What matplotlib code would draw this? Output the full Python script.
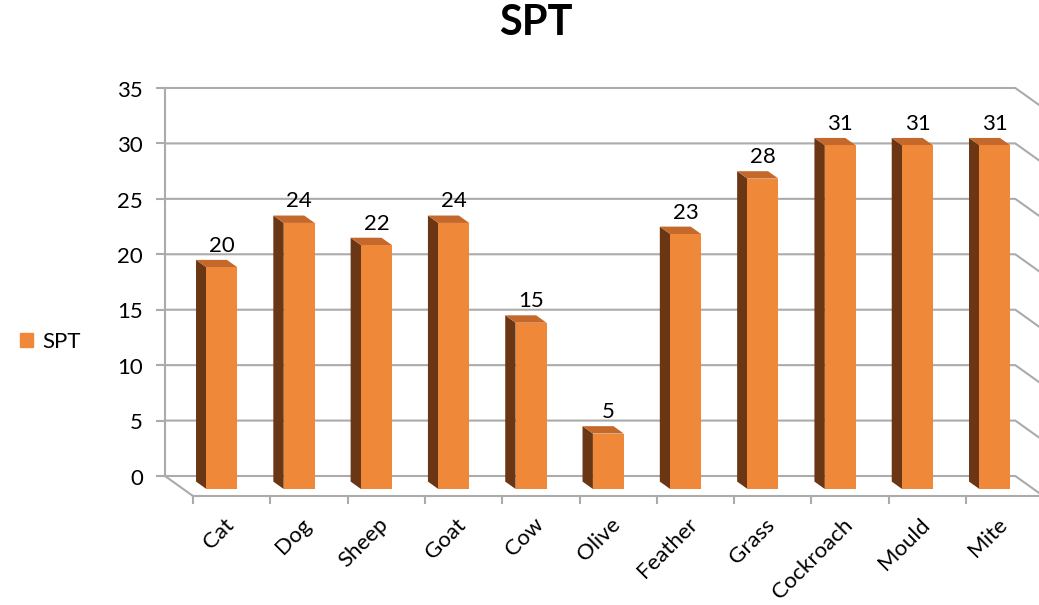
import matplotlib.pyplot as plt
from matplotlib.patches import Polygon, Patch

plt.rcParams['font.family'] = ['Lato', 'DejaVu Sans']

categories = ['Cat', 'Dog', 'Sheep', 'Goat', 'Cow', 'Olive',
              'Feather', 'Grass', 'Cockroach', 'Mould', 'Mite']
spt = [20, 24, 22, 24, 15, 5, 23, 28, 31, 31, 31]
yticks = [0, 5, 10, 15, 20, 25, 30, 35]

front_col = '#F0883A'
side_col = '#6B3613'
top_col = '#C4682C'
grid_col = '#ABABAB'
fs = 16

# oblique projection: depth d=0 is the front of the floor, d=1 the back wall
DX = -28 / 77.3
DY = 20 / 11.086


def proj(x, v, d):
    return (x + d * DX, v + d * DY)


fig = plt.figure(figsize=(10.39, 6.05), dpi=100)
ax = fig.add_axes([0, 0, 1, 1])
ax.set_xlim(-193 / 77.3, (1039 - 193) / 77.3)
ax.set_ylim((496 - 605) / 11.086, 496 / 11.086)
ax.axis('off')

n = len(categories)
ymax = yticks[-1]

# back wall gridlines and right wall
for v in yticks:
    p0 = proj(0, v, 1)
    p1 = proj(n, v, 1)
    p2 = proj(n, v, 0)
    ax.plot([p0[0], p1[0], p2[0]], [p0[1], p1[1], p2[1]], color=grid_col, lw=1.5, zorder=1)
    t0 = proj(-8 / 77.3, v, 1)
    ax.plot([t0[0], p0[0]], [t0[1], p0[1]], color=grid_col, lw=1.5, zorder=1)
    lx, ly = proj(-0.285, v, 1)
    ax.text(lx, ly - 0.25, str(v), ha='right', va='center', fontsize=fs)

# left wall edge and floor
a = proj(0, 0, 1)
b = proj(0, ymax, 1)
ax.plot([a[0], b[0]], [a[1], b[1]], color=grid_col, lw=1.5, zorder=1)
c = proj(0, 0, 0)
ax.plot([a[0], c[0]], [a[1], c[1]], color=grid_col, lw=1.5, zorder=1)
ax.plot([0, n], [0, 0], color=grid_col, lw=1.5, zorder=1)
for i in range(n):
    ax.plot([i, i], [0, -0.65], color=grid_col, lw=1.5, zorder=1)

# bars
w = 0.4
d0, d1 = 0.35, 0.72
for i, (name, v) in enumerate(zip(categories, spt)):
    xc = i + 0.5
    xl, xr = xc - w / 2, xc + w / 2
    side = [proj(xl, 0, d0), proj(xl, v, d0), proj(xl, v, d1), proj(xl, 0, d1)]
    top = [proj(xl, v, d0), proj(xr, v, d0), proj(xr, v, d1), proj(xl, v, d1)]
    front = [proj(xl, 0, d0), proj(xr, 0, d0), proj(xr, v, d0), proj(xl, v, d0)]
    ax.add_patch(Polygon(side, closed=True, fc=side_col, ec='none', zorder=2))
    ax.add_patch(Polygon(top, closed=True, fc=top_col, ec='none', zorder=2))
    ax.add_patch(Polygon(front, closed=True, fc=front_col, ec='none', zorder=3))
    lx, ly = proj(xc, v, d0)
    ax.text(lx, ly + 1.4, str(v), ha='center', va='baseline', fontsize=fs)
    ax.text(xc - 0.01, -2.3, name, rotation=45, rotation_mode='anchor',
            ha='right', va='center', fontsize=fs)

fig.text(0.516, 1 - 23 / 605, 'SPT', ha='center', va='center',
         fontsize=30, fontweight='bold')

fig.legend(handles=[Patch(color=front_col, label='SPT')], loc='center left',
           bbox_to_anchor=(0.0, 1 - 342 / 605), frameon=False, fontsize=fs,
           handlelength=0.6, handleheight=0.6, handletextpad=0.4)

fig.savefig('out.png', dpi=100)
